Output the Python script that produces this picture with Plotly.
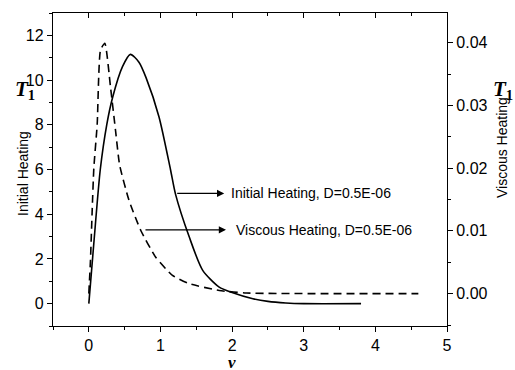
import plotly.graph_objects as go

# Initial Heating (left axis)
v_init = [0, 0.07, 0.16, 0.25, 0.33, 0.47, 0.58, 0.70, 0.80, 0.98, 1.14, 1.21, 1.40, 1.59, 1.82, 2.00, 2.29, 2.50, 2.75, 3.00, 3.80]
t_init = [0, 2.7, 6.0, 8.0, 9.2, 10.6, 11.15, 10.8, 10.1, 8.35, 6.0, 4.9, 3.0, 1.49, 0.74, 0.5, 0.22, 0.10, 0.03, 0.0, 0.0]

# Viscous Heating (right axis)
v_visc = [0, 0.023, 0.047, 0.07, 0.117, 0.163, 0.224, 0.303, 0.373, 0.43, 0.56, 0.724, 0.934, 1.168, 1.40, 1.82, 2.20, 4.60]
t_visc = [0, 0.0053, 0.0133, 0.020, 0.027, 0.0388, 0.0399, 0.0329, 0.026, 0.0205, 0.0149, 0.0101, 0.0058, 0.0029, 0.0016, 0.0005, 0.0001, 0.0]

label_init = "Initial Heating, D=0.5E-06"
label_visc = "Viscous Heating, D=0.5E-06"

fig = go.Figure()
fig.add_trace(go.Scatter(x=v_init, y=t_init, mode="lines",
                         line=dict(color="black", width=1.6, shape="spline", smoothing=0.7),
                         showlegend=False, yaxis="y"))
fig.add_trace(go.Scatter(x=v_visc, y=t_visc, mode="lines",
                         line=dict(color="black", width=1.6, dash="8px,5px", shape="spline", smoothing=0.5),
                         showlegend=False, yaxis="y2"))

tickfont = dict(family="Liberation Sans, Arial", size=16, color="black")
axcommon = dict(showgrid=False, zeroline=False, showline=True, linecolor="black", linewidth=1.3,
                tickcolor="black", tickwidth=1.3, tickfont=tickfont, automargin=False)

fig.update_layout(
    width=515, height=370,
    margin=dict(l=53, r=68, t=13, b=44, autoexpand=False),
    paper_bgcolor="white", plot_bgcolor="white",
    xaxis=dict(range=[-0.5, 5], dtick=1, tick0=0, ticks="outside", ticklen=5,
               minor=dict(ticks="outside", dtick=0.5, tick0=0, ticklen=3, tickcolor="black", tickwidth=1.3),
               **axcommon),
    xaxis2=dict(range=[-0.5, 5], dtick=1, tick0=0, ticks="inside", ticklen=5, overlaying="x", side="top",
                showticklabels=False,
                minor=dict(ticks="inside", dtick=0.5, tick0=0, ticklen=3, tickcolor="black", tickwidth=1.3),
                **axcommon),
    yaxis=dict(range=[-1, 13], dtick=2, tick0=0, ticks="outside", ticklen=5,
               minor=dict(ticks="outside", dtick=1, tick0=0, ticklen=3, tickcolor="black", tickwidth=1.3),
               **axcommon),
    yaxis2=dict(range=[-0.00516, 0.04473], dtick=0.01, tick0=0, ticks="outside", ticklen=5,
                overlaying="y", side="right", tickformat=".2f",
                minor=dict(ticks="outside", dtick=0.005, tick0=0, ticklen=3, tickcolor="black", tickwidth=1.3),
                **axcommon),
)
# dummy trace to show top axis
fig.add_trace(go.Scatter(x=[None], y=[None], xaxis="x2", showlegend=False))

serif = "Liberation Serif, Times New Roman"
sans = "Liberation Sans, Arial"
ann = []
# arrows
ann.append(dict(x=1.89, y=4.93, ax=1.213, ay=4.93, xref="x", yref="y", axref="x", ayref="y",
                text="", showarrow=True, arrowhead=2, arrowsize=1.2, arrowwidth=1.2, arrowcolor="black", standoff=0, startstandoff=0))
ann.append(dict(x=1.915, y=3.30, ax=0.77, ay=3.30, xref="x", yref="y", axref="x", ayref="y",
                text="", showarrow=True, arrowhead=2, arrowsize=1.2, arrowwidth=1.2, arrowcolor="black", standoff=0, startstandoff=0))
ann.append(dict(x=1.96, y=4.93, xref="x", yref="y", text=label_init, showarrow=False, xanchor="left", yanchor="middle",
                font=dict(family=sans, size=14, color="black")))
ann.append(dict(x=2.03, y=3.30, xref="x", yref="y", text=label_visc, showarrow=False, xanchor="left", yanchor="middle",
                font=dict(family=sans, size=14, color="black")))
# axis titles
ann.append(dict(x=-0.076, y=0.486, xref="paper", yref="paper", text="Initial Heating", textangle=-90, showarrow=False,
                xanchor="center", yanchor="middle", font=dict(family=sans, size=14, color="black")))
ann.append(dict(x=1.14, y=0.569, xref="paper", yref="paper", text="Viscous Heating", textangle=-90, showarrow=False,
                xanchor="center", yanchor="middle", font=dict(family=sans, size=14, color="black")))
ann.append(dict(x=-0.071, y=0.754, xref="paper", yref="paper", text="<b><i>T</i><sub>1</sub></b>", showarrow=False,
                xanchor="center", yanchor="middle", font=dict(family=serif, size=21, color="black")))
ann.append(dict(x=1.142, y=0.754, xref="paper", yref="paper", text="<b><i>T</i><sub>1</sub></b>", showarrow=False,
                xanchor="center", yanchor="middle", font=dict(family=serif, size=21, color="black")))
ann.append(dict(x=0.454, y=-0.117, xref="paper", yref="paper", text="<b><i>v</i></b>", showarrow=False,
                xanchor="center", yanchor="middle", font=dict(family=serif, size=17, color="black")))
fig.update_layout(annotations=ann)

fig.write_html("out.html", config={"displayModeBar": False},
               post_script="document.body.style.margin='0';document.body.style.overflow='hidden';")
